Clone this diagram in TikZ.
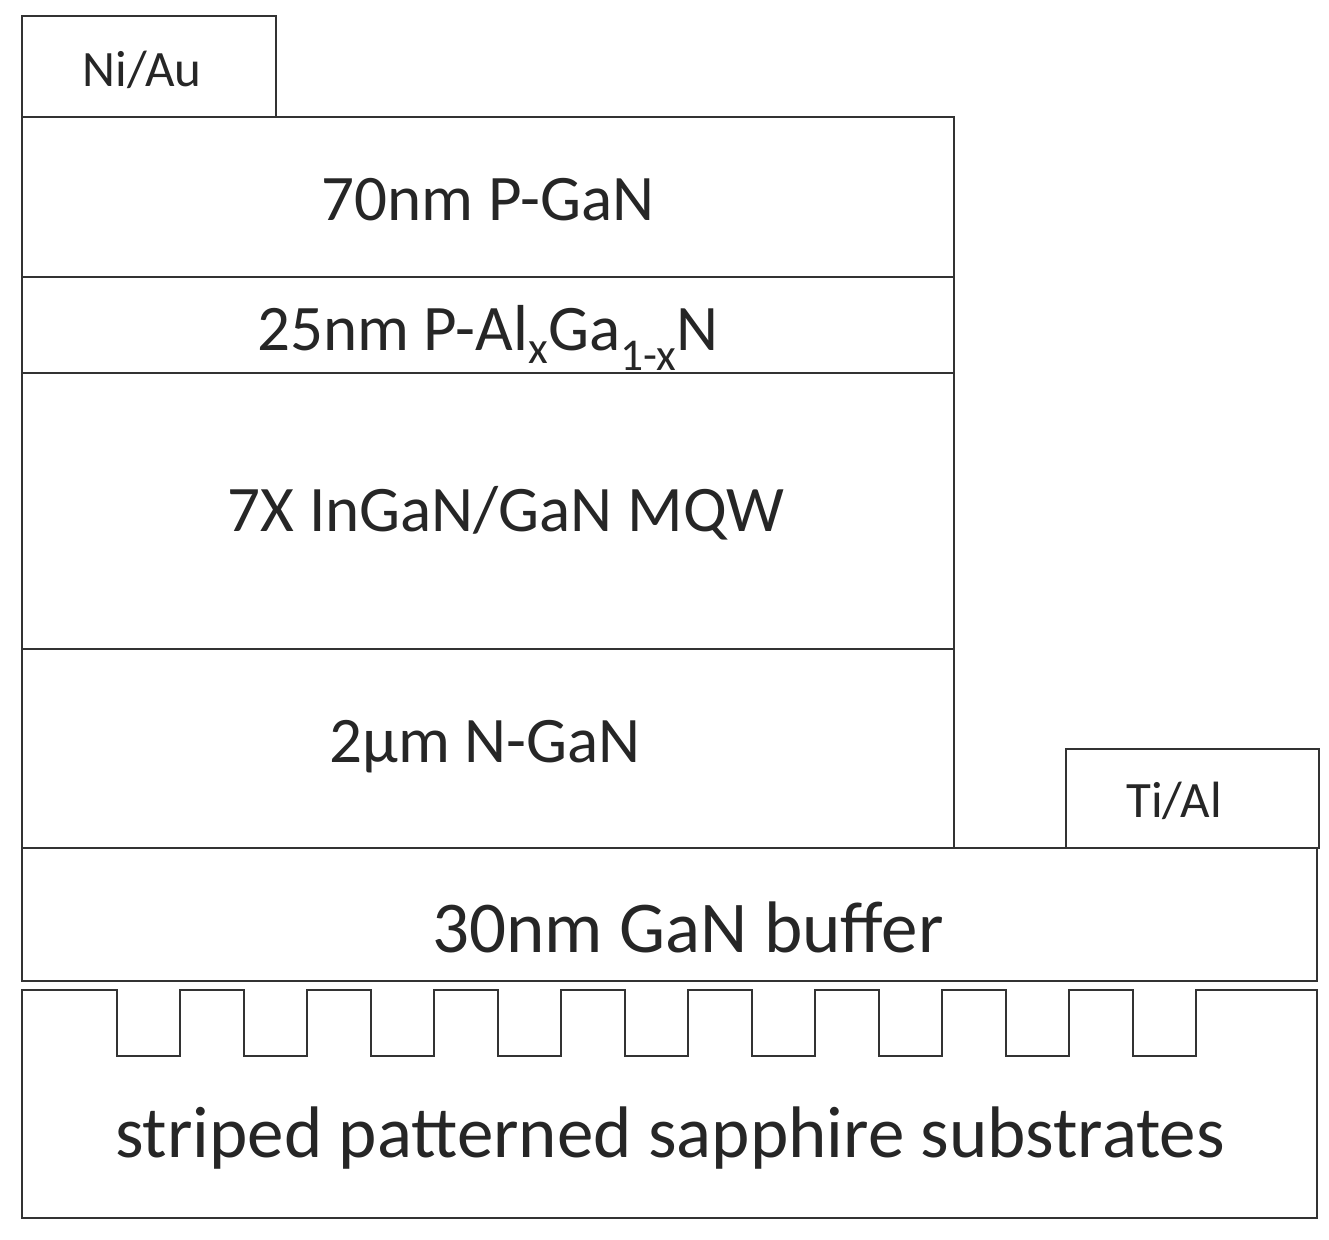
\documentclass[tikz,border=0pt]{standalone}
\usepackage{fontspec}
\setmainfont{Carlito}
\begin{document}
\begin{tikzpicture}[x=1pt,y=-1pt,line width=2pt,
 layer/.style={draw,black!80},
 lbl/.style={font=\fontsize{65}{70}\selectfont,text=black!85},
 blbl/.style={font=\fontsize{73}{78}\selectfont,text=black!85},
 slbl/.style={font=\fontsize{51}{55}\selectfont,text=black!85}]
\useasboundingbox (0,0) rectangle (1329,1239);
\draw[layer] (22,16) rectangle (276,117);
\node[slbl] (niau) at (142,70) {Ni/Au};
\draw[layer] (22,117) rectangle (954,277);
\node[lbl] (pgan) at (488,200) {70nm P-GaN};
\draw[layer] (22,277) rectangle (954,373);
\node[lbl] (algan) at (488,338) {25nm P-Al\textsubscript{x}Ga\textsubscript{1-x}N};
\draw[layer] (22,373) rectangle (954,649);
\node[lbl] (mqw) at (506,513) {7X InGaN/GaN MQW};
\draw[layer] (22,649) rectangle (954,848);
\node[lbl] (ngan) at (485,747) {2µm N-GaN};
\draw[layer] (1066,749) rectangle (1319,848);
\node[slbl] (tial) at (1174,801) {Ti/Al};
\draw[layer] (22,848) rectangle (1317,981);
\node[blbl] (buf) at (688,927) {30nm GaN buffer};
\draw[layer] (22,990) -- (117,990)
 \foreach \i in {0,...,8} { -- ({117+127*\i},1056) -- ({180+127*\i},1056) -- ({180+127*\i},990) -- ({244+127*\i},990) }
 -- (1317,990) -- (1317,1218) -- (22,1218) -- cycle;
\node[blbl] (sub) at (670,1138) {striped patterned sapphire substrates};
\end{tikzpicture}
\end{document}
